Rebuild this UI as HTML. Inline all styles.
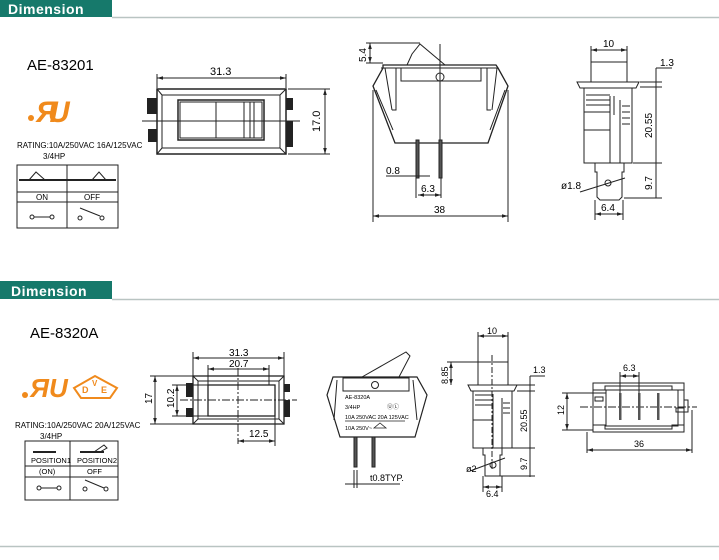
<!DOCTYPE html>
<html><head><meta charset="utf-8"><style>
html,body{margin:0;padding:0;background:#fff;}
svg{display:block;font-family:"Liberation Sans",sans-serif;}
</style></head><body>
<svg width="719" height="560" viewBox="0 0 719 560" xmlns="http://www.w3.org/2000/svg">
<defs>
<marker id="a" viewBox="0 0 10 10" refX="10" refY="5" markerWidth="6" markerHeight="6" orient="auto-start-reverse"><path d="M0,2 L10,5 L0,8 z" fill="#222"/></marker>
</defs>
<!-- Section 1 header -->
<path d="M0,0 H112 V17 H0 Z" fill="#16796b"/>
<text x="8" y="14" font-size="14" font-weight="bold" fill="#fff" letter-spacing="0.5">Dimension</text>
<line x1="112" y1="17.5" x2="719" y2="17.5" stroke="#b9c4c2" stroke-width="1.5"/>

<g stroke="#222" fill="none" stroke-width="1">
<!-- front view 1 -->
<rect x="157" y="89" width="129" height="65" stroke-width="1.5"/>
<rect x="162" y="95" width="118" height="53"/>
<line x1="157" y1="89" x2="162" y2="95"/><line x1="286" y1="89" x2="280" y2="95"/>
<line x1="157" y1="154" x2="162" y2="148"/><line x1="286" y1="154" x2="280" y2="148"/>
<rect x="178" y="100" width="86" height="40" stroke-width="1.5"/>
<rect x="180" y="102" width="82" height="36"/>
<line x1="216" y1="102" x2="216" y2="138"/><line x1="244" y1="102" x2="244" y2="138"/>
<line x1="250" y1="102" x2="250" y2="138"/><line x1="254" y1="102" x2="254" y2="138"/>
<line x1="142" y1="121" x2="300" y2="121"/>
<line x1="157" y1="74" x2="157" y2="88"/><line x1="286" y1="74" x2="286" y2="88"/>
<line x1="157" y1="78" x2="286" y2="78" marker-start="url(#a)" marker-end="url(#a)"/>
<line x1="288" y1="89" x2="330" y2="89"/><line x1="288" y1="154" x2="330" y2="154"/>
<line x1="325" y1="89" x2="325" y2="154" marker-start="url(#a)" marker-end="url(#a)"/>
</g>
<g fill="#222">
<rect x="147" y="98" width="10" height="16"/><rect x="148" y="129" width="9" height="13"/>
<rect x="286" y="98" width="7" height="12"/><rect x="286" y="121" width="7" height="26"/>
</g>
<text x="210" y="75" font-size="11">31.3</text>
<text transform="translate(320,132) rotate(-90)" font-size="11">17.0</text>

<text x="27" y="70" font-size="15">AE-83201</text>
<text x="36" y="122" font-size="30" font-weight="bold" fill="#f08a1c" font-style="italic">Я</text>
<text x="48" y="122" font-size="30" font-weight="bold" fill="#f08a1c" font-style="italic">U</text>
<circle cx="31" cy="118" r="3" fill="#f08a1c"/>
<text x="17" y="148" font-size="8">RATING:10A/250VAC  16A/125VAC</text>
<text x="43" y="159" font-size="8">3/4HP</text>
<g stroke="#222" fill="none">
<rect x="17" y="165" width="101" height="63"/>
<line x1="67" y1="165" x2="67" y2="228"/>
<line x1="19" y1="180" x2="116" y2="180" stroke-width="2"/>
<line x1="17" y1="192" x2="118" y2="192"/><line x1="17" y1="202" x2="118" y2="202"/>
<path d="M29,180 L36,172 L45,180 M92,180 L99,172 L106,180"/>
<circle cx="32" cy="217" r="2"/><circle cx="52" cy="217" r="2"/><line x1="34" y1="217" x2="50" y2="217"/>
<circle cx="80" cy="218" r="2"/><circle cx="102" cy="218" r="2"/><line x1="80" y1="208" x2="100" y2="216"/>
</g>
<text x="36" y="200" font-size="8">ON</text><text x="84" y="200" font-size="8">OFF</text>

<!-- side view 1 -->
<g stroke="#222" fill="none">
<path d="M383,65 L496,65 L498,68 L508,86 L488,143 L395,143 L373,86 L383,68 Z" stroke-width="1.3"/>
<path d="M381,68 L498,68"/>
<path d="M385,68 L392,110 M396,68 L396,110 L392,110 M487,68 L487,110 L491,110 M497,68 L492,110"/>
<path d="M376,90 L393,130 M505,90 L490,130"/>
<rect x="401" y="68" width="80" height="13"/>
<circle cx="440" cy="77" r="4"/>
<line x1="440" y1="44" x2="440" y2="157"/>
<path d="M407,65 L412,54 L420,44 L445,65"/>
<rect x="416" y="140" width="3" height="38" fill="#555"/>
<rect x="439" y="140" width="3" height="38" fill="#555"/>
<line x1="366" y1="43" x2="420" y2="43"/><line x1="366" y1="63" x2="383" y2="63"/>
<line x1="370" y1="43" x2="370" y2="63" marker-start="url(#a)" marker-end="url(#a)"/>
<line x1="386" y1="176" x2="430" y2="176"/>
<line x1="416" y1="178" x2="416" y2="198"/><line x1="441" y1="178" x2="441" y2="198"/>
<line x1="418" y1="195" x2="441" y2="195" marker-start="url(#a)" marker-end="url(#a)"/>
<line x1="373" y1="90" x2="373" y2="222"/><line x1="508" y1="90" x2="508" y2="222"/>
<line x1="373" y1="216" x2="508" y2="216" marker-start="url(#a)" marker-end="url(#a)"/>
</g>
<text transform="translate(366,62) rotate(-90)" font-size="10">5.4</text>
<text x="386" y="174" font-size="10">0.8</text>
<text x="421" y="192" font-size="10">6.3</text>
<text x="434" y="213" font-size="10">38</text>

<!-- end view 1 -->
<g stroke="#222" fill="none">
<rect x="591" y="62" width="36" height="20"/>
<path d="M577,82 H639 L636,88 H580 Z"/>
<rect x="584" y="88" width="48" height="75"/>
<line x1="586" y1="95" x2="610" y2="95"/><line x1="586" y1="100" x2="610" y2="100"/><line x1="586" y1="105" x2="610" y2="105"/>
<line x1="584" y1="112" x2="610" y2="112"/><line x1="584" y1="130" x2="610" y2="130"/>
<line x1="610" y1="96" x2="610" y2="163"/><line x1="620" y1="100" x2="620" y2="163"/>
<line x1="614" y1="96" x2="614" y2="115"/>
<line x1="622" y1="106" x2="630" y2="106"/><line x1="622" y1="112" x2="630" y2="112"/><line x1="622" y1="118" x2="630" y2="118"/><line x1="622" y1="124" x2="630" y2="124"/>
<path d="M595,163 V172 H597 V197 L600,200 H619 L622,197 V172 H624 V163"/>
<circle cx="608" cy="183" r="3"/>
<line x1="580" y1="192" x2="625" y2="178"/>
<line x1="591" y1="46" x2="591" y2="62"/><line x1="627" y1="46" x2="627" y2="62"/>
<line x1="591" y1="50" x2="627" y2="50" marker-start="url(#a)" marker-end="url(#a)"/>
<line x1="640" y1="82" x2="662" y2="82"/><line x1="640" y1="87" x2="662" y2="87"/>
<line x1="656" y1="68" x2="656" y2="198"/><line x1="656" y1="68" x2="672" y2="68"/>
<line x1="633" y1="163" x2="662" y2="163"/><line x1="624" y1="198" x2="662" y2="198"/>
<line x1="595" y1="200" x2="595" y2="220"/><line x1="623" y1="200" x2="623" y2="220"/>
<line x1="595" y1="214" x2="623" y2="214" marker-start="url(#a)" marker-end="url(#a)"/>
</g>
<text x="603" y="47" font-size="10">10</text>
<text x="660" y="66" font-size="10">1.3</text>
<text transform="translate(652,138) rotate(-90)" font-size="10">20.55</text>
<text transform="translate(652,190) rotate(-90)" font-size="10">9.7</text>
<text x="561" y="189" font-size="10">ø1.8</text>
<text x="601" y="211" font-size="10">6.4</text>

<!-- Section 2 header -->
<path d="M0,281 H112 V299 H0 Z" fill="#16796b"/>
<text x="11" y="296" font-size="14" font-weight="bold" fill="#fff" letter-spacing="0.5">Dimension</text>
<line x1="112" y1="299.5" x2="719" y2="299.5" stroke="#b9c4c2" stroke-width="1.5"/>
<line x1="0" y1="546.5" x2="719" y2="546.5" stroke="#b9c4c2" stroke-width="1.5"/>

<text x="30" y="338" font-size="15">AE-8320A</text>
<text x="30" y="397" font-size="26" font-weight="bold" fill="#f08a1c" font-style="italic">ЯU</text>
<circle cx="25" cy="395" r="3" fill="#f08a1c"/>
<path d="M74,388 L95,376 L117,388 L110,398 H81 Z" fill="none" stroke="#f08a1c" stroke-width="2"/>
<text x="82" y="393" font-size="9" fill="#f08a1c" font-weight="bold">D</text>
<text x="92" y="386" font-size="8" fill="#f08a1c" font-weight="bold">V</text>
<text x="101" y="393" font-size="9" fill="#f08a1c" font-weight="bold">E</text>
<text x="15" y="428" font-size="8">RATING:10A/250VAC  20A/125VAC</text>
<text x="40" y="439" font-size="8">3/4HP</text>
<g stroke="#222" fill="none">
<rect x="25" y="441" width="93" height="59"/>
<line x1="70" y1="441" x2="70" y2="500"/>
<line x1="25" y1="466" x2="118" y2="466"/><line x1="25" y1="477" x2="118" y2="477"/>
<line x1="33" y1="452" x2="56" y2="452" stroke-width="2"/>
<line x1="80" y1="452" x2="104" y2="452" stroke-width="2"/><path d="M94,452 L104,445 L107,448 L100,452"/>
<circle cx="39" cy="488" r="2"/><circle cx="59" cy="488" r="2"/><line x1="41" y1="488" x2="57" y2="488"/>
<circle cx="85" cy="489" r="2"/><circle cx="106" cy="489" r="2"/><line x1="85" y1="480" x2="104" y2="488"/>
</g>
<text x="31" y="463" font-size="7.5">POSITION1</text><text x="77" y="463" font-size="7.5">POSITION2</text>
<text x="39" y="474" font-size="7.5">(ON)</text><text x="87" y="474" font-size="7.5">OFF</text>

<!-- top view 2 -->
<g stroke="#222" fill="none">
<rect x="193" y="376" width="91" height="48" stroke-width="1.3"/>
<rect x="198" y="381" width="81" height="38"/>
<line x1="193" y1="376" x2="198" y2="381"/><line x1="284" y1="376" x2="279" y2="381"/>
<line x1="193" y1="424" x2="198" y2="419"/><line x1="284" y1="424" x2="279" y2="419"/>
<rect x="208" y="385" width="67" height="31" stroke-width="1.3"/>
<line x1="180" y1="400" x2="297" y2="400" stroke-dasharray="8,2,2,2"/>
<line x1="238" y1="368" x2="238" y2="444" stroke-dasharray="8,2,2,2"/>
<line x1="193" y1="352" x2="193" y2="376"/><line x1="284" y1="352" x2="284" y2="376"/>
<line x1="193" y1="358" x2="284" y2="358" marker-start="url(#a)" marker-end="url(#a)"/>
<line x1="208" y1="365" x2="208" y2="385"/><line x1="269" y1="365" x2="269" y2="385"/>
<line x1="208" y1="369" x2="269" y2="369" marker-start="url(#a)" marker-end="url(#a)"/>
<line x1="150" y1="376" x2="193" y2="376"/><line x1="150" y1="424" x2="193" y2="424"/>
<line x1="155" y1="376" x2="155" y2="424" marker-start="url(#a)" marker-end="url(#a)"/>
<line x1="172" y1="385" x2="208" y2="385"/><line x1="172" y1="416" x2="208" y2="416"/>
<line x1="177" y1="385" x2="177" y2="416" marker-start="url(#a)" marker-end="url(#a)"/>
<line x1="275" y1="416" x2="275" y2="446"/>
<line x1="238" y1="441" x2="275" y2="441" marker-start="url(#a)" marker-end="url(#a)"/>
</g>
<g fill="#222">
<rect x="186" y="383" width="7" height="14"/><rect x="186" y="408" width="7" height="9"/>
<rect x="284" y="384" width="6" height="8"/><rect x="284" y="400" width="6" height="17"/>
</g>
<text x="229" y="356" font-size="10">31.3</text>
<text x="229" y="367" font-size="10">20.7</text>
<text transform="translate(152,404) rotate(-90)" font-size="10">17</text>
<text transform="translate(174,408) rotate(-90)" font-size="10">10.2</text>
<text x="249" y="437" font-size="10">12.5</text>

<!-- side view 2 -->
<g stroke="#222" fill="none">
<path d="M333,377 H417 L427,395 L415,437 H340 L327,395 Z" stroke-width="1.2"/>
<path d="M337,380 L334,420 M413,380 L417,420"/>
<rect x="343" y="378" width="66" height="13"/>
<circle cx="375" cy="385" r="3.5"/>
<path d="M362,377 L406,352 L410,356 L399,377"/>
<line x1="345" y1="421" x2="405" y2="421" stroke-width="0.7"/>
<rect x="354" y="437" width="3" height="30" fill="#555"/>
<rect x="372" y="437" width="3" height="30" fill="#555"/>
<line x1="354" y1="470" x2="354" y2="488"/><line x1="357" y1="470" x2="357" y2="488"/>
<line x1="345" y1="484" x2="400" y2="484"/>
<path d="M380,423 L386,428 L374,428 Z" stroke-width="0.8"/>
</g>
<text x="345" y="399" font-size="5.5">AE-8320A</text>
<text x="345" y="409" font-size="5.5">3/4HP</text>
<text x="387" y="409" font-size="6" fill="#333">ⓊⓁ</text>
<text x="345" y="419" font-size="5.5">10A 250VAC  20A 125VAC</text>
<text x="345" y="430" font-size="5.5">10A  250V~</text>
<text x="370" y="481" font-size="9">t0.8TYP.</text>

<!-- end view 2 -->
<g stroke="#222" fill="none">
<rect x="478" y="362" width="30" height="23"/>
<path d="M468,385 H517 L514,391 H471 Z"/>
<rect x="473" y="391" width="39" height="57"/>
<line x1="475" y1="395" x2="493" y2="395"/><line x1="475" y1="400" x2="493" y2="400"/><line x1="475" y1="405" x2="493" y2="405"/>
<line x1="473" y1="420" x2="493" y2="420"/>
<line x1="493" y1="394" x2="493" y2="448"/><line x1="502" y1="398" x2="502" y2="448"/>
<line x1="503" y1="403" x2="510" y2="403"/><line x1="503" y1="408" x2="510" y2="408"/><line x1="503" y1="413" x2="510" y2="413"/>
<line x1="492" y1="355" x2="492" y2="470" stroke-dasharray="6,2,2,2"/>
<path d="M483,448 V455 H485 V476 H500 V455 H502 V448"/>
<circle cx="493" cy="465" r="3"/>
<line x1="470" y1="471" x2="505" y2="458"/>
<line x1="478" y1="332" x2="478" y2="362"/><line x1="508" y1="332" x2="508" y2="362"/>
<line x1="478" y1="336" x2="508" y2="336" marker-start="url(#a)" marker-end="url(#a)"/>
<line x1="447" y1="362" x2="478" y2="362"/>
<line x1="451" y1="362" x2="451" y2="385" marker-start="url(#a)" marker-end="url(#a)"/>
<line x1="517" y1="385" x2="535" y2="385"/><line x1="517" y1="391" x2="535" y2="391"/>
<line x1="530" y1="376" x2="530" y2="477"/><line x1="530" y1="376" x2="545" y2="376"/>
<line x1="512" y1="448" x2="535" y2="448"/><line x1="500" y1="476" x2="535" y2="476"/>
<line x1="483" y1="476" x2="483" y2="492"/><line x1="502" y1="476" x2="502" y2="492"/>
<line x1="483" y1="487" x2="502" y2="487" marker-start="url(#a)" marker-end="url(#a)"/>
</g>
<text x="487" y="334" font-size="9">10</text>
<text transform="translate(448,384) rotate(-90)" font-size="9">8.85</text>
<text x="533" y="373" font-size="9">1.3</text>
<text transform="translate(527,432) rotate(-90)" font-size="9">20.55</text>
<text transform="translate(527,470) rotate(-90)" font-size="9">9.7</text>
<text x="466" y="472" font-size="9">ø2</text>
<text x="486" y="497" font-size="9">6.4</text>

<!-- bottom view 2 -->
<g stroke="#222" fill="none">
<rect x="593" y="383" width="91" height="49"/>
<path d="M593,390 H605 V386 H672 V390 H684"/>
<path d="M593,425 H605 V429 H672 V425 H684"/>
<rect x="606" y="390" width="72" height="36"/>
<rect x="595" y="397" width="8" height="4"/><rect x="676" y="408" width="8" height="4"/>
<rect x="684" y="400" width="4" height="12"/>
<line x1="580" y1="407" x2="697" y2="407" stroke-dasharray="8,2,2,2"/>
<line x1="620" y1="372" x2="620" y2="393"/><line x1="639" y1="372" x2="639" y2="393"/>
<line x1="620" y1="376" x2="639" y2="376" marker-start="url(#a)" marker-end="url(#a)"/>
<line x1="562" y1="393" x2="606" y2="393"/><line x1="562" y1="430" x2="593" y2="430"/>
<line x1="567" y1="393" x2="567" y2="430" marker-start="url(#a)" marker-end="url(#a)"/>
<line x1="587" y1="432" x2="587" y2="453"/><line x1="692" y1="410" x2="692" y2="453"/>
<line x1="587" y1="450" x2="692" y2="450" marker-start="url(#a)" marker-end="url(#a)"/>
</g>
<g fill="#555">
<rect x="619" y="393" width="2.5" height="27"/><rect x="638" y="393" width="2.5" height="27"/><rect x="657" y="393" width="2.5" height="27"/>
</g>
<text x="623" y="371" font-size="9">6.3</text>
<text transform="translate(564,415) rotate(-90)" font-size="9">12</text>
<text x="634" y="447" font-size="9">36</text>
</svg>
</body></html>
